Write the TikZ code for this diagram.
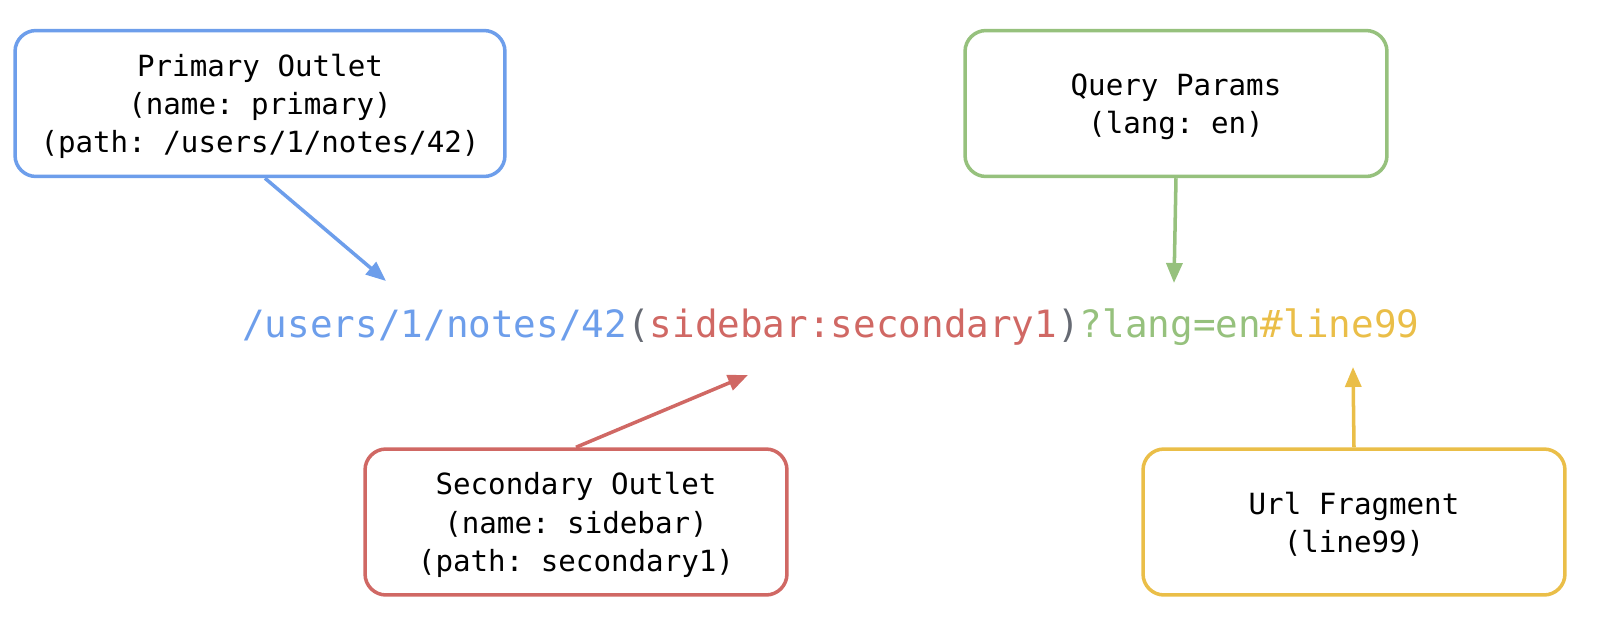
\documentclass[tikz,border=0pt]{standalone}
\usepackage{fontspec}
\setmonofont{DejaVu Sans Mono}
\usetikzlibrary{positioning,arrows.meta}
\definecolor{oBlue}{RGB}{109,158,235}
\definecolor{oRed}{RGB}{208,104,100}
\definecolor{oGreen}{RGB}{150,193,125}
\definecolor{oYellow}{RGB}{234,190,72}
\definecolor{oGray}{RGB}{102,106,115}
\tikzset{
  part/.style={rectangle, rounded corners=0.42cm, line width=2pt, fill=white,
               minimum width=8.44cm, minimum height=2.92cm, align=center,
               text depth=-0.18cm,
               font=\fontsize{16.6}{21.8}\selectfont\ttfamily},
  ptr/.style={-{Triangle[length=0.4cm,width=0.32cm]}, line width=2pt},
  url/.style={font=\fontsize{21.4}{26}\selectfont\ttfamily, inner sep=0pt},
}
\begin{document}
\begin{tikzpicture}[x=0.02cm, y=-0.02cm]
  \useasboundingbox (0,0) rectangle (1600,636);
  % the url itself
  \node[url, anchor=west] (link) at (242,327)
    {\textcolor{oBlue}{/users/1/notes/42}\textcolor{oGray}{(}%
     \textcolor{oRed}{sidebar:secondary1}\textcolor{oGray}{)}%
     \textcolor{oGreen}{?lang=en}\textcolor{oYellow}{\#line99}};
  % the parts
  \node[part, draw=oBlue, minimum width=9.8cm] (primary) at (260,103.5)
    {Primary Outlet\\(name: primary)\\(path: /users/1/notes/42)};
  \node[part, draw=oGreen] (query) at (1176,103.5) {Query Params\\(lang: en)};
  \node[part, draw=oRed] (secondary) at (576,522)
    {Secondary Outlet\\(name: sidebar)\\(path: secondary1)};
  \node[part, draw=oYellow] (frag) at (1354,522) {Url Fragment\\(line99)};
  % arrow tips
  \coordinate (pTip) at (386,281);
  \coordinate (qTip) at (1174,283);
  \coordinate (sTip) at (748,375);
  \coordinate (fTip) at (1353,367);
  \draw[ptr, draw=oBlue, fill=oBlue] (primary.south -| 265,0) -- (pTip);
  \draw[ptr, draw=oGreen, fill=oGreen] (query.south) -- (qTip);
  \draw[ptr, draw=oRed, fill=oRed] (secondary.north) -- (sTip);
  \draw[ptr, draw=oYellow, fill=oYellow] (frag.north) -- (fTip);
\end{tikzpicture}
\end{document}
